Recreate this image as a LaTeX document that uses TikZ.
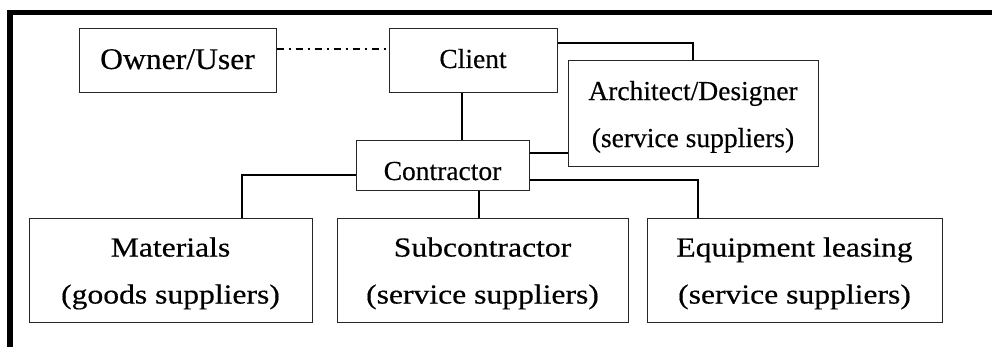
\documentclass[tikz,border=0pt]{standalone}
\usepackage{graphicx}
\usepackage{fontspec}
\setmainfont{Liberation Serif}
\newfontfamily\boxfont[FakeBold=0.4]{Liberation Serif}
% horizontally widened text for the wider boxes
\newcommand\widetxt[2]{\scalebox{#1}[1]{#2}}
\begin{document}
\begin{tikzpicture}[x=1pt,y=-1pt,
  box/.style={draw=black!85,line width=1pt,rectangle,inner sep=0pt,align=center,
    font=\boxfont\fontsize{27.5}{47}\selectfont},
  link/.style={draw=black,line width=1.6pt},
  loose/.style={draw=black,line width=1.3pt,dash pattern=on 7pt off 5pt on 2pt off 5pt}]
\useasboundingbox (0,0) rectangle (992,347);
% frame: thick top rule and left rule
\fill[black] (7,10) rectangle (992,15);
\fill[black] (7,10) rectangle (13,347);

% boxes
\node[box,minimum width=197,minimum height=64,text height=16pt,text depth=0pt,
  font=\boxfont\fontsize{30}{36}\selectfont] (owner) at (177.5,61) {\widetxt{1.055}{Owner/User}};
\node[box,minimum width=168,minimum height=64,text height=14pt,text depth=0pt]
  (client) at (473,61) {Client};
\node[box,minimum width=250,minimum height=106,text depth=0pt] (arch) at (693,114)
  {Architect/Designer\\(service suppliers)};
\node[box,minimum width=173,minimum height=50,text height=28pt,text depth=0pt]
  (contractor) at (442.5,166) {Contractor};
\node[box,minimum width=283,minimum height=103,text depth=-3pt] (materials) at (170.5,270.5)
  {\widetxt{1.15}{Materials}\\\widetxt{1.15}{(goods suppliers)}};
\node[box,minimum width=291,minimum height=103,text depth=-3pt] (sub) at (482.5,270.5)
  {\widetxt{1.15}{Subcontractor}\\\widetxt{1.15}{(service suppliers)}};
\node[box,minimum width=295,minimum height=103,text depth=-3pt] (equip) at (794.5,270.5)
  {\widetxt{1.15}{Equipment leasing}\\\widetxt{1.15}{(service suppliers)}};

% connectors
\draw[loose] ([yshift=12pt]owner.east) -- ([yshift=12pt]client.west);
\draw[link] ([yshift=18pt]client.east) -| (arch.north);
\coordinate (cdown) at ([xshift=-11pt]client.south);
\draw[link] (cdown) -- (cdown |- contractor.north);
\coordinate (carch) at ([yshift=13pt]contractor.east);
\draw[link] (carch) -- (carch -| arch.west);
\coordinate (eqtop) at ([xshift=-96.5pt]equip.north);
\draw[link] ([yshift=-14pt]contractor.east) -| (eqtop);
\coordinate (mattop) at ([xshift=71.5pt]materials.north);
\draw[link] ([yshift=-9pt]contractor.west) -| (mattop);
\coordinate (csub) at ([xshift=36.5pt]contractor.south);
\draw[link] (csub) -- (csub |- sub.north);
\end{tikzpicture}
\end{document}
